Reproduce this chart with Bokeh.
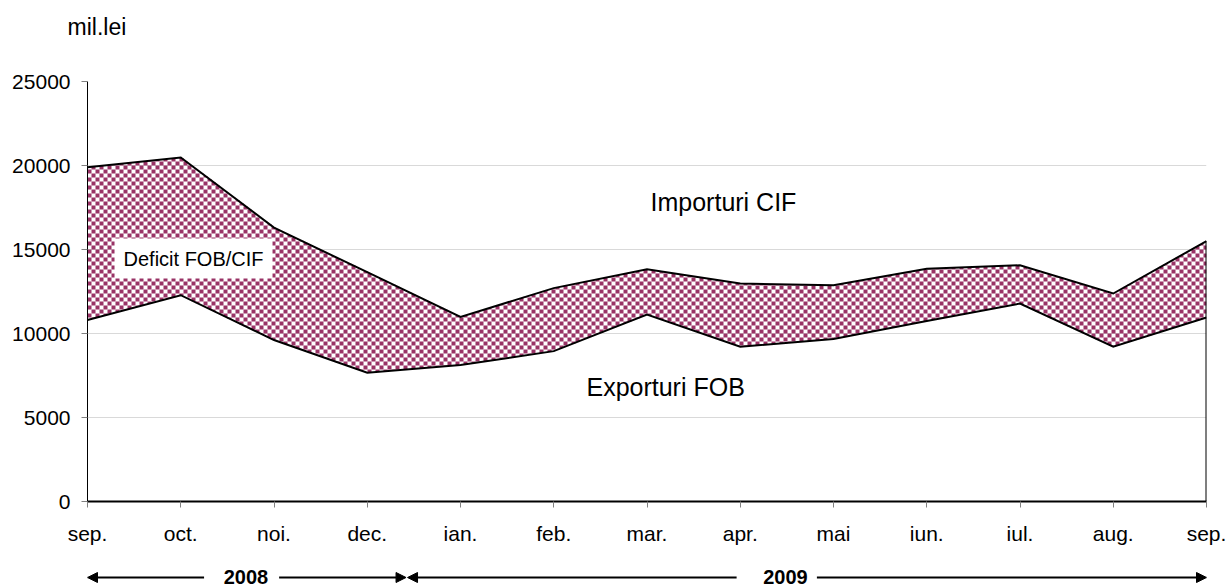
import numpy as np
from bokeh.plotting import figure
from bokeh.layouts import column
from bokeh.models import Range1d, FixedTicker, Label, Arrow, NormalHead
from bokeh.embed import file_html
from bokeh.resources import INLINE

# ---- data ----
months = ["sep.", "oct.", "noi.", "dec.", "ian.", "feb.", "mar.", "apr.", "mai", "iun.", "iul.", "aug.", "sep."]
importuri_cif = [19900, 20480, 16300, 13650, 10990, 12700, 13820, 12970, 12870, 13860, 14060, 12380, 15500]
exporturi_fob = [10800, 12280, 9610, 7670, 8120, 8950, 11130, 9210, 9670, 10750, 11780, 9210, 10950]
y_ticks = [0, 5000, 10000, 15000, 20000, 25000]
years = ["2008", "2009"]
unit_label = "mil.lei"
series_labels = ["Importuri CIF", "Exporturi FOB", "Deficit FOB/CIF"]

FONT = "Liberation Sans"
PLUM = "#993366"

W = 1230
LEFT, RIGHT, TOP, BOTTOM = 87, 24, 20, 47
H0, H1, H2 = 61, 487, 38
plot_w = W - LEFT - RIGHT
plot_h = H1 - TOP - BOTTOM
xmax = len(months) - 1
ymax = y_ticks[-1]
px_x = plot_w / xmax          # pixels per month
x = list(range(len(months)))

# ---- unit label strip on top ----
p0 = figure(width=W, height=H0, x_range=Range1d(0, W), y_range=Range1d(-H0, 0),
            x_axis_type=None, y_axis_type=None, output_backend="svg", toolbar_location=None,
            min_border=0, frame_align=False)
p0.outline_line_color = None
p0.xgrid.visible = False
p0.ygrid.visible = False
p0.add_layout(Label(x=67, y=-26, text=unit_label, text_font=FONT, text_font_size="23px",
                    text_align="left", text_baseline="middle", text_color="black"))

# ---- main chart ----
p = figure(width=W, height=H1,
           x_range=Range1d(0, xmax), y_range=Range1d(y_ticks[0], ymax),
           output_backend="svg", toolbar_location=None,
           min_border_left=LEFT, min_border_right=RIGHT, min_border_top=TOP, min_border_bottom=BOTTOM)
p.outline_line_color = None

p.xaxis.ticker = FixedTicker(ticks=x)
p.xaxis.major_label_overrides = {i: m for i, m in enumerate(months)}
p.yaxis.ticker = FixedTicker(ticks=y_ticks)
for ax in (p.xaxis, p.yaxis):
    ax.major_label_text_font = FONT
    ax.major_label_text_font_size = "21px"
    ax.major_label_text_color = "black"
    ax.major_tick_line_color = "#808080"
    ax.major_tick_in = 0
    ax.major_tick_out = 6
    ax.minor_tick_line_color = None
p.xaxis.major_label_standoff = 14
p.yaxis.major_label_standoff = 11
p.xaxis.axis_line_color = "black"
p.xaxis.axis_line_width = 2
p.yaxis.axis_line_color = "black"
p.yaxis.axis_line_width = 1
p.xgrid.visible = False
p.ygrid.grid_line_color = "#d9d9d9"
p.ygrid.grid_line_width = 1

# checkered band between exports and imports (squares in data units, clipped to the band)
cell = 4.0
cw = cell / px_x
ch = cell * ymax / plot_h
xi = np.array(x, dtype=float)
imp = np.array(importuri_cif, dtype=float)
exp_ = np.array(exporturi_fob, dtype=float)
L, R, B, T = [], [], [], []
cols = np.arange(0, xmax, cw)
rows = np.arange(0, imp.max() + ch, ch)
for ci, x0 in enumerate(cols):
    x1 = min(x0 + cw, xmax)
    xc = 0.5 * (x0 + x1)
    lo = np.interp(xc, xi, exp_)
    hi = np.interp(xc, xi, imp)
    for ri, y0 in enumerate(rows):
        if (ci + ri) % 2:
            continue
        b = max(y0, lo)
        t = min(y0 + ch, hi)
        if t > b:
            L.append(x0); R.append(x1); B.append(b); T.append(t)
p.quad(left=L, right=R, bottom=B, top=T, fill_color=PLUM, line_color=None)

p.line(x, importuri_cif, line_color="black", line_width=2, line_join="miter")
p.line(x, exporturi_fob, line_color="black", line_width=2, line_join="miter")
p.segment(x0=[x[-1]], y0=[0], x1=[x[-1]], y1=[importuri_cif[-1]], line_color="black", line_width=2)

p.add_layout(Label(x=6.82, y=17800, text=series_labels[0], text_font=FONT, text_font_size="25px",
                   text_align="center", text_baseline="middle", text_color="black"))
p.add_layout(Label(x=6.20, y=6790, text=series_labels[1], text_font=FONT, text_font_size="25px",
                   text_align="center", text_baseline="middle", text_color="black"))
p.add_layout(Label(x=1.137, y=14460, text=series_labels[2], text_font=FONT, text_font_size="20px",
                   text_align="center", text_baseline="middle", text_color="black",
                   background_fill_color="white", padding=9))

# ---- year strip below (same x scale as the chart) ----
p2 = figure(width=W, height=H2, x_range=p.x_range,
            y_range=Range1d(-H2, 0), x_axis_type=None, y_axis_type=None,
            output_backend="svg", toolbar_location=None,
            min_border_left=LEFT, min_border_right=RIGHT, min_border_top=0, min_border_bottom=0)
p2.outline_line_color = None
p2.xgrid.visible = False
p2.ygrid.visible = False
ya = -29
segments = [(1.250, 0.0), (2.055, 3.416), (6.961, 3.432), (7.822, 12.0)]
for xs, xe in segments:
    p2.add_layout(Arrow(x_start=xs, y_start=ya, x_end=xe, y_end=ya, line_width=2, line_color="black",
                        start=None,
                        end=NormalHead(size=10, fill_color="black", line_color="black", line_width=1)))
for xc, yr in zip([1.699, 7.485], years):
    p2.add_layout(Label(x=xc, y=ya + 1, text=yr, text_font=FONT, text_font_size="20px", text_font_style="bold",
                        text_align="center", text_baseline="middle", text_color="black"))

open("out.html", "w").write(file_html(column(p0, p, p2, spacing=0), INLINE))
